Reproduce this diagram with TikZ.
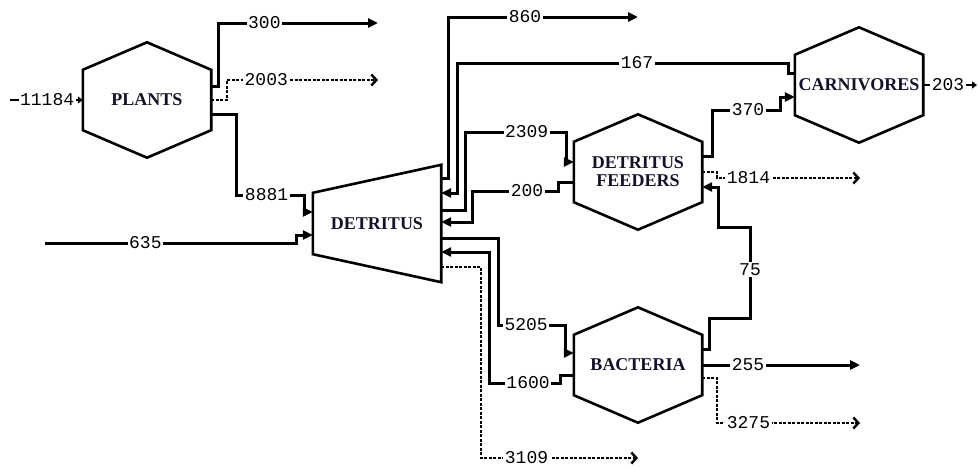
\documentclass[tikz,border=0pt]{standalone}
\usepackage{fontspec}
\setmainfont{Liberation Serif}
\newfontfamily\numfont{Liberation Mono}
\usetikzlibrary{arrows.meta,calc}
\definecolor{namecol}{RGB}{18,18,40}
\tikzset{
  flow/.style={line width=3pt, line join=miter, -{Triangle[length=10pt,width=9pt]}},
  smallflow/.style={line width=2.6pt, -{Triangle[length=5pt,width=7pt]}},
  dflow/.style={line width=2.8pt, dash pattern=on 3pt off 1.5pt, -{Straight Barb[length=5pt,width=11pt,line width=2.4pt]}},
  lbl/.style={fill=white, inner sep=1.5pt, font=\numfont\fontsize{18}{18}\selectfont, text=black},
  hexbox/.style={rectangle, minimum width=128pt, minimum height=60pt, inner sep=0pt, align=center,
    font=\bfseries\fontsize{18}{18}\selectfont, text=namecol},
  detbox/.style={rectangle, minimum width=128pt, minimum height=117pt, inner sep=0pt,
    font=\bfseries\fontsize{18}{18}\selectfont, text=namecol},
  shapeline/.style={line width=2.6pt, line join=miter},
}
\newcommand\hexdraw[1]{\draw[shapeline] (#1.north west) -- ([yshift=27.5pt]#1.north) -- (#1.north east)
  -- (#1.south east) -- ([yshift=-27.5pt]#1.south) -- (#1.south west) -- cycle;}
\begin{document}
\begin{tikzpicture}[x=1pt,y=-1pt]
\useasboundingbox (0,0) rectangle (978,469);
% nodes
\node[hexbox] (plants) at (147,100) {PLANTS};
\node[hexbox] (df) at (638,172) {DETRITUS\\FEEDERS};
\node[hexbox] (carn) at (859,85) {CARNIVORES};
\node[hexbox] (bact) at (638,365) {BACTERIA};
\node[detbox] (det) at (377,223.5) {DETRITUS};
\hexdraw{plants}
\hexdraw{df}
\hexdraw{carn}
\hexdraw{bact}
\draw[shapeline] (det.north east) -- (det.south east) -- ([yshift=28pt]det.south west)
  -- ([yshift=-28pt]det.north west) -- cycle;
% free ends
\coordinate (in11184) at (10,100);
\coordinate (in635) at (45,243);
\coordinate (out300) at (378,23);
\coordinate (out2003) at (378,80);
\coordinate (out860) at (638,17);
\coordinate (out3109) at (638,458);
\coordinate (out1814) at (860,178);
\coordinate (out255) at (860,365);
\coordinate (out3275) at (860,423);
\coordinate (out203) at (977,85);
% plants
\draw[smallflow] (in11184) -- node[lbl,pos=0.51]{11184} (plants.west);
\draw[flow] ([yshift=14pt]plants.east) -| (218,23) -- node[lbl,pos=0.29]{300} (out300);
\draw[dflow] (plants.east) -| (227,80) -- node[lbl,pos=0.26]{2003} (out2003);
\draw[flow] ([yshift=-14pt]plants.east) -| (236,195) -- node[lbl,pos=0.45]{8881} (304,195)
  -- (304,212) -- ([yshift=11.5pt]det.west);
\draw[flow] (in635) -- node[lbl,pos=0.40]{635} (296,243) -- (296,235) -- ([yshift=-11.5pt]det.west);
% detritus right side
\draw[flow] ([yshift=45.5pt]det.east) -| (448,17) -- node[lbl,pos=0.405]{860} (out860);
\draw[flow] ([yshift=12pt]carn.west) -- (788,73) -- (788,63) -- node[lbl,pos=0.456]{167} (457,63)
  -- (457,193) -- ([yshift=30.5pt]det.east);
\draw[flow] ([yshift=13.5pt]det.east) -| (465,132) -- node[lbl,pos=0.61]{2309} (566,132)
  -- (566,162) -- ([yshift=10pt]df.west);
\draw[flow] ([yshift=-10pt]df.west) -- (558,182) -- (558,191) -- node[lbl,pos=0.36]{200} (472,191)
  -- (472,222) -- ([yshift=1.5pt]det.east);
\draw[flow] ([yshift=-14.5pt]det.east) -| (498,325) -- node[lbl,pos=0.42]{5205} (565,325)
  -- (565,353) -- ([yshift=12pt]bact.west);
\draw[flow] ([yshift=-10pt]bact.west) -- (560,375) -- (560,383) -- node[lbl,pos=0.45]{1600} (489,383)
  -- (489,252) -- ([yshift=-28.5pt]det.east);
\draw[dflow] ([yshift=-43.5pt]det.east) -| (481,458) -- node[lbl,pos=0.29]{3109} (out3109);
% detritus feeders
\draw[flow] ([yshift=16pt]df.east) -| (712,110) -- node[lbl,pos=0.53]{370} (780,110) -- (780,97)
  -- ([yshift=-12pt]carn.west);
\draw[dflow] (df.east) -- (717,172) -- (717,178) -- node[lbl,pos=0.22]{1814} (out1814);
% bacteria
\draw[flow] ([yshift=16pt]bact.east) -- (709,349) -- (709,318) -- (750,318)
  -- node[lbl,pos=0.53]{75} (750,227) -- (718,227) -- (718,187) -- ([yshift=-15pt]df.east);
\draw[flow] (bact.east) -- node[lbl,pos=0.29]{255} (out255);
\draw[dflow] ([yshift=-13pt]bact.east) -| (717,423) -- node[lbl,pos=0.22]{3275} (out3275);
% carnivores
\draw[smallflow] (carn.east) -- node[lbl,pos=0.46]{203} (out203);
\end{tikzpicture}
\end{document}
